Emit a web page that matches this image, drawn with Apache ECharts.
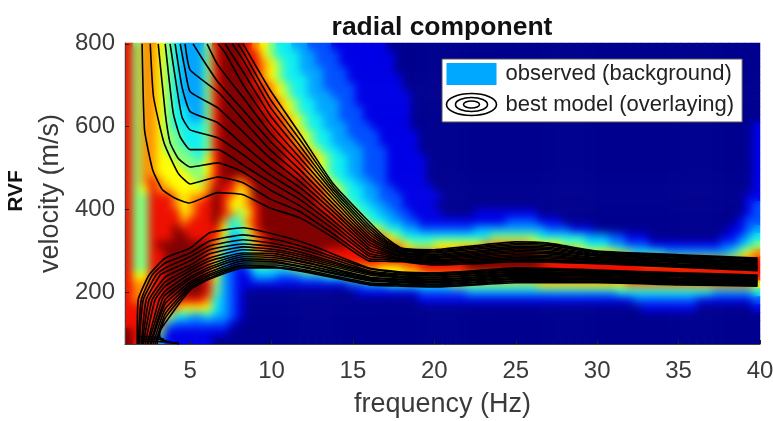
<!DOCTYPE html>
<html>
<head>
<meta charset="utf-8">
<title>radial component</title>
<script src="https://cdn.jsdelivr.net/npm/echarts@6/dist/echarts.min.js"></script>
<style>
  html, body { margin: 0; background: #fff; }
  #chart { width: 773px; height: 421px; }
</style>
</head>
<body>
<div id="chart"></div>
<script>
const freqTicks = [5, 10, 15, 20, 25, 30, 35, 40];
const velocityTicks = [200, 400, 600, 800];

// observed spectrum, level 0-9 on the jet ramp, top row first
const heatRows = [
  '8577654333 5899987654 4332221111 1110000000 0000000000 0000000000 0000000000 0000000000',
  '8577654333 5899988654 4433222111 1111000000 0000000000 0000000000 0000000000 0000000000',
  '8577654333 5899988765 4433222111 1111000000 0000000000 0000000000 0000000000 0000000000',
  '8577654333 5899998765 4433322211 1111000000 0000000000 0000000000 0000000000 0000000000',
  '8577654333 5899998765 4443322211 1111100000 0000000000 0000000000 0000000000 0000000000',
  '8577654333 5899998876 5443322221 1111100000 0000000000 0000000000 0000000000 0000000000',
  '8577654333 5899999876 5443332221 1111110000 0000000000 0000000000 0000000000 0000000000',
  '8577654333 5899999887 6544333221 1111110000 0000000000 0000000000 0000000000 0000000000',
  '8577654433 5899999887 6544333222 1111110000 0000000000 0000000000 0000000000 0000000000',
  '8577654433 5899999988 7654433222 1111110000 0000000000 0000000000 0000000000 0000000000',
  '8577654444 5899999988 7654433322 2111110000 0000000000 0000000000 0000000000 0000000001',
  '8577655444 5899999998 8765443322 2211111000 0000000000 0000000000 0000000000 0000000001',
  '8577655444 5899999998 8765443332 2211111000 0000000000 0000000000 0000000000 0000000001',
  '8577655544 5899999999 8876544333 2221111000 0000000000 0000000000 0000000000 0000000001',
  '8577665554 6899999999 8887654433 2221111100 0000000000 0000000000 0000000000 0000000001',
  '8577666555 6899999999 8887654433 2221111100 0000000000 0000000000 0000000000 0000000001',
  '8577666655 6899999999 9887654433 2221111100 0000000000 0000000000 0000000000 0000000001',
  '8578766665 7898789999 9998765443 3221111100 0000000000 0000000000 0000000000 0000000001',
  '8568776666 7988679999 9998876544 3322111110 0000000000 0000000000 0000000000 0000000001',
  '8558887677 8987679999 9999876544 3322211111 0000000000 0000000000 0000000000 0000000011',
  '8558887678 8986678999 9999887654 4332211110 0000000000 0000000000 0000000000 0000000012',
  '8558888678 8987568999 9999988765 4433221111 0000111111 1100000000 0000000000 0000000012',
  '8558888788 8974578999 9999998876 5443322111 1111111122 2211100000 0000000000 0000000122',
  '8558889888 8864468999 9999999888 7654433222 2222333333 3332221110 0000000000 0000001123',
  '8558889988 8863457899 9999999888 8876544444 4444445555 5544444433 3221110000 0000011234',
  '8558999999 9753357899 9999999988 8887765556 6666677777 7666655544 4332221111 1111122345',
  '8558899999 8743347788 8899988888 8888877777 7788888888 8877777666 6655444433 3333334567',
  '8558899999 8642246677 7788888888 8888888888 8889999999 9998888888 8888877777 7777777778',
  '8558899999 8632124444 4556666677 7766677888 8889999999 9988888888 8888888888 8888888888',
  '8668899999 8632113332 2233344455 6666666677 7777777777 7788888888 8888888888 8888888888',
  '8778899999 8532111111 1111111122 3334444444 4555555555 5566666666 6667777777 7777777776',
  '8778899999 8532100000 0000000001 1111111222 2223333333 3333333333 3344444444 4444333334',
  '8788888888 7432100000 0000000000 0000000111 1111111111 1111111111 1111222222 2211111112',
  '8888887666 6432100000 0000000000 0000000000 0000000000 0000000000 0000011111 1100000001',
  '8888864433 4332100000 0000000000 0000000000 0000000000 0000000000 0000000000 0000000000',
  '8888732222 2221000000 0000000000 0000000000 0000000000 0000000000 0000000000 0000000000',
  '9888511111 1110000000 0000000000 0000000000 0000000000 0000000000 0000000000 0000000000',
  '9888311111 1000000000 0000000000 0000000000 0000000000 0000000000 0000000000 0000000000'
].map(r => r.replace(/ /g, ''));
const jetColors = ['#00008f', '#0000e6', '#0050ff', '#00a4ff', '#10f0f0', '#80ff80', '#ffff00', '#ff9000', '#ee1000', '#800000'];

// best model contours above the ridge, outermost fan line first: the part left of 8.25 Hz differs per line
const upperLeft = [
  [[2.05, 800], [2.2, 592], [2.7, 495], [3.3, 447], [4.05, 427], [4.95, 415], [6.7, 440]],
  [[2.55, 800], [2.75, 672], [3.4, 560], [4.25, 488], [5, 461], [6.7, 478]],
  [[3.04, 800], [3.47, 633], [3.77, 561], [4.25, 524], [5, 502], [6.7, 512]],
  [[3.47, 800], [3.96, 633], [4.39, 575], [5, 544], [6.7, 544]],
  [[3.77, 800], [4.2, 689], [4.5, 623], [5, 592], [6.7, 573]],
  [[4.08, 800], [4.5, 696], [5, 636], [6.7, 609]],
  [[4.39, 800], [4.69, 737], [5, 684], [6.7, 645]],
  [[4.69, 800], [5, 737], [6.7, 684]],
  [[5.18, 800], [5.8, 761], [6.7, 708]],
  [[6.04, 800], [6.7, 749]],
  [[6.72, 800], [7.15, 778]],
  [[7.15, 800]],
  [[7.58, 800]],
  [[7.94, 800]],
  []
];
const upperFreq = [8.25, 9.9, 11.75, 13.8, 16, 17, 18, 20, 22.5, 25, 27, 30, 35, 39.85];
const upperColumns = [
  [435, 464, 490, 507, 532, 556, 587, 616, 640, 670, 701, 732, 761, 781, 800],
  [403, 425, 447, 466, 483, 502, 524, 544, 565, 585, 607, 628, 648, 667, 689],
  [379, 394, 408, 423, 437, 452, 466, 481, 495, 510, 524, 539, 553, 568, 582],
  [331, 340, 352, 362, 372, 384, 394, 403, 413, 423, 432, 440, 447, 454, 461],
  [275, 280, 287, 293, 300, 306, 313, 320, 327, 333, 340, 347, 354, 361, 369],
  [274, 278, 282, 286, 290, 294, 298, 302, 306, 310, 314, 318, 322, 326, 331],
  [273, 275, 278, 280, 282, 285, 287, 289, 292, 294, 296, 299, 301, 304, 306],
  [265, 268, 270, 273, 276, 278, 281, 283, 286, 289, 291, 294, 297, 299, 302],
  [268, 271, 274, 277, 280, 284, 287, 290, 293, 296, 299, 303, 306, 309, 312],
  [273, 276, 280, 283, 287, 290, 294, 297, 300, 304, 307, 310, 314, 317, 321],
  [272, 275, 278, 282, 285, 288, 292, 295, 298, 302, 305, 308, 312, 315, 318],
  [268, 270, 272, 275, 277, 279, 281, 283, 286, 288, 290, 292, 295, 297, 299],
  [260, 262, 264, 266, 268, 271, 273, 275, 277, 279, 281, 284, 286, 288, 290],
  [251, 253, 255, 258, 260, 262, 264, 266, 269, 271, 273, 275, 278, 280, 282]
];

// contours below the ridge, top line first
const lowerLeft = [
  [[1.75, 74], [1.81, 181], [2.48, 241]],
  [[1.81, 74], [2.0, 181], [2.67, 241]],
  [[1.87, 74], [2.12, 181], [2.91, 241]],
  [[2.0, 74], [2.3, 181], [3.16, 241]],
  [[2.05, 74], [2.48, 181]],
  [[2.12, 74], [2.67, 181]],
  [[2.24, 74], [2.85, 181]],
  [[2.36, 74], [3.1, 181]],
  [[2.42, 74], [3.28, 181]],
  [[2.55, 74]],
  [[2.6, 74]],
  [[2.73, 74]],
  [[2.85, 74]],
  [[2.98, 74], [3.0, 85]],
  [[4.3, 75], [3.2, 84], [3.12, 100]]
];
const lowerFreq = [3.47, 5, 6.2, 8.25, 10.3, 12.35, 16, 18, 20, 22.5, 25, 30, 35, 39.85];
const lowerColumns = [
  [282, 270, 258, 248, 236, 224, 214, 202, 193, 181, 171, 159, 147, 137, 125],
  [306, 294, 285, 275, 265, 258, 251, 244, 236, 231, 224, 219, 214, 210, 205],
  [343, 323, 311, 302, 292, 282, 275, 267, 260, 255, 248, 243, 239, 234, 231],
  [355, 338, 326, 316, 309, 302, 294, 290, 285, 280, 275, 270, 265, 263, 258],
  [338, 326, 316, 309, 302, 297, 292, 287, 282, 277, 273, 270, 265, 260, 258],
  [314, 304, 297, 290, 285, 280, 275, 270, 268, 263, 258, 256, 251, 248, 246],
  [258, 256, 251, 248, 246, 244, 241, 236, 234, 231, 229, 227, 222, 219, 217],
  [248, 246, 243, 241, 238, 236, 234, 231, 229, 226, 224, 222, 219, 217, 214],
  [246, 244, 241, 239, 236, 234, 231, 229, 226, 224, 222, 219, 217, 214, 212],
  [251, 249, 246, 244, 241, 239, 236, 234, 231, 229, 227, 224, 222, 219, 217],
  [258, 255, 253, 250, 248, 245, 243, 240, 238, 235, 232, 230, 227, 225, 222],
  [253, 251, 249, 246, 244, 242, 240, 238, 235, 233, 231, 229, 226, 224, 222],
  [246, 244, 242, 240, 238, 236, 233, 231, 229, 227, 225, 223, 221, 219, 217],
  [241, 239, 237, 235, 233, 231, 229, 227, 226, 224, 222, 220, 218, 216, 214]
];
const bottomClosures = [
  [[1.8, 80], [3, 80], [4.3, 75]],
  [[1.85, 86], [3.2, 85], [3.8, 78]],
  [[1.9, 92], [3, 90], [3.4, 85]]
];

const observedName = 'observed (background)';
const modelName = 'best model (overlaying)';
const ringsIcon = 'path://M0 11A25 11 0 1 0 50 11A25 11 0 1 0 0 11ZM9 11A16 7 0 1 0 41 11A16 7 0 1 0 9 11ZM17 11A8 3.5 0 1 0 33 11A8 3.5 0 1 0 17 11Z';

const plot = { left: 125, top: 43, width: 635, height: 301 };
const font = 'Liberation Sans';
const textColor = '#3a3a3a';

let heatData = [];
heatRows.forEach((row, r) => {
  for (let c = 0; c < row.length; c++) {
    heatData.push([c, heatRows.length - 1 - r, Number(row[c])]);
  }
});

function contourSeries(points) {
  return {
    name: modelName,
    type: 'line',
    data: points,
    xAxisIndex: 0,
    yAxisIndex: 0,
    zlevel: 1,
    silent: true,
    showSymbol: false,
    symbol: 'none',
    smooth: 0.15,
    lineStyle: { color: '#000', width: 1.6 },
    itemStyle: { color: '#000' }
  };
}

let contours = [];
upperLeft.forEach((left, i) => {
  contours.push(left.concat(upperFreq.map((f, k) => [f, upperColumns[k][i]])));
});
lowerLeft.forEach((left, i) => {
  contours.push(left.concat(lowerFreq.map((f, k) => [f, lowerColumns[k][i]])));
});
contours = contours.concat(bottomClosures);

const chart = echarts.init(document.getElementById('chart'));
chart.setOption({
  animation: false,
  textStyle: { fontFamily: font },
  title: {
    text: 'radial component',
    left: 437,
    top: 9,
    textAlign: 'center',
    zlevel: 1,
    textStyle: { fontFamily: font, fontSize: 26.5, fontWeight: 'bold', color: '#111' }
  },
  grid: Object.assign({ outerBoundsMode: 'none' }, plot),
  xAxis: [
    {
      type: 'value', min: 1, max: 40, zlevel: 1,
      name: 'frequency (Hz)', nameLocation: 'middle', nameGap: 47,
      nameTextStyle: { fontFamily: font, fontSize: 27, color: textColor },
      splitLine: { show: false },
      axisLine: { lineStyle: { color: '#444' } },
      axisTick: { inside: true, length: 4, customValues: freqTicks, lineStyle: { color: '#222' } },
      axisLabel: { customValues: freqTicks, fontFamily: font, fontSize: 24, color: textColor, margin: 15 }
    },
    {
      type: 'category', show: false,
      data: heatRows[0].split('').map((_, i) => i)
    }
  ],
  yAxis: [
    {
      type: 'value', min: 74, max: 802, zlevel: 1,
      name: 'velocity (m/s)', nameLocation: 'middle', nameGap: 55,
      nameTextStyle: { fontFamily: font, fontSize: 27, color: textColor },
      splitLine: { show: false },
      axisLine: { show: true, lineStyle: { color: '#444' } },
      axisTick: { inside: true, length: 4, customValues: velocityTicks, lineStyle: { color: '#222' } },
      axisLabel: { customValues: velocityTicks, fontFamily: font, fontSize: 24, color: textColor, margin: 10, padding: [4, 0, 0, 0] }
    },
    {
      type: 'category', show: false,
      data: heatRows.map((_, i) => i)
    }
  ],
  visualMap: {
    show: false,
    seriesIndex: 0,
    min: 0,
    max: 9,
    inRange: { color: jetColors }
  },
  legend: {
    zlevel: 1,
    left: 442,
    top: 59,
    orient: 'vertical',
    itemWidth: 50,
    itemHeight: 22,
    itemGap: 6,
    padding: [4, 8, 4, 2],
    backgroundColor: '#fff',
    borderColor: '#555',
    borderWidth: 1,
    borderRadius: 0,
    selectedMode: false,
    textStyle: { fontFamily: font, fontSize: 22, color: '#222', padding: [0, 0, 0, 4] },
    data: [
      { name: observedName, icon: 'rect', itemStyle: { color: '#00a8ff' } },
      { name: modelName, icon: ringsIcon, itemStyle: { color: 'none', borderColor: '#000', borderWidth: 1.6 }, lineStyle: { width: 0 } }
    ]
  },
  graphic: [{
    type: 'text',
    zlevel: 1,
    x: 16,
    y: 191,
    rotation: Math.PI / 2,
    style: { text: 'RVF', align: 'center', verticalAlign: 'middle', fontFamily: font, fontSize: 21, fontWeight: 'bold', fill: '#111' }
  }],
  series: [
    {
      name: observedName,
      type: 'heatmap',
      data: heatData,
      xAxisIndex: 1,
      yAxisIndex: 1,
      zlevel: 0,
      silent: true,
      progressive: 0
    }
  ].concat(contours.map(contourSeries))
});

// soften the coarse cells: a blur layer sits between the heatmap canvas and the contour canvas
const heatCanvas = chart.getDom().querySelector('canvas');
const soften = document.createElement('div');
soften.style.cssText = 'position:absolute;left:' + plot.left + 'px;top:' + plot.top + 'px;width:' + plot.width + 'px;height:' + plot.height + 'px;backdrop-filter:blur(4.5px);';
heatCanvas.after(soften);
</script>
</body>
</html>
